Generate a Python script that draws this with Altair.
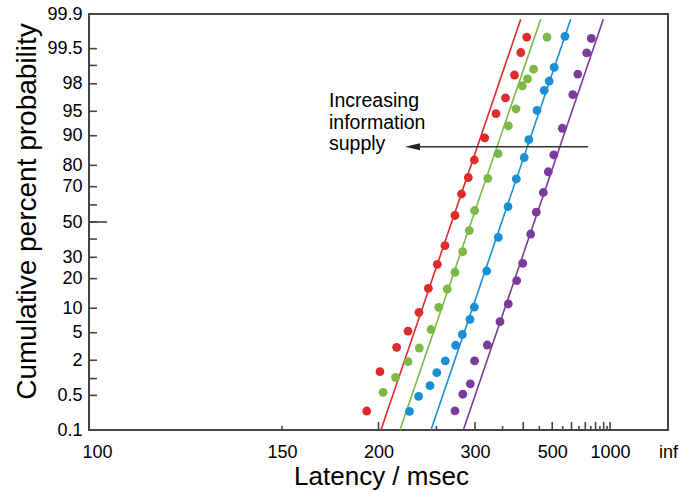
import statistics
import altair as alt
import pandas as pd

ND = statistics.NormalDist()

# ---------------- data ----------------
series_names = ["S1", "S2", "S3", "S4"]
series_colors = ["#e02b2b", "#7cb846", "#1b8fd6", "#7b3b9b"]

red_lat = [409.8, 393.3, 377.2, 356.3, 336.6, 315.9, 298.9, 289.9, 280.4, 271.8,
           259.6, 251.0, 241.6, 232.5, 222.7, 213.4, 201.0, 192.2]
red_pct = [99.70, 99.41, 98.55, 96.75, 94.62, 89.45, 82.15, 74.57, 66.13, 53.85,
           36.24, 26.48, 16.23, 8.98, 5.26, 3.13, 1.31, 0.249]

green_lat = [478.5, 430.8, 412.1, 397.4, 380.9, 362.6, 340.6, 321.3, 299.4, 291.4,
             282.0, 271.8, 262.3, 252.5, 244.3, 232.8, 222.7, 212.5, 203.2]
green_pct = [99.70, 98.84, 98.33, 97.85, 95.37, 92.35, 84.49, 74.19, 56.78, 44.86,
             32.95, 22.75, 15.97, 10.25, 5.51, 3.06, 1.90, 1.05, 0.57]

blue_lat = [562.1, 508.8, 487.4, 467.7, 442.0, 416.0, 402.6, 381.7, 361.9, 341.2,
            319.4, 298.9, 292.4, 281.5, 272.7, 260.0, 250.4, 243.3, 232.2, 224.0]
blue_pct = [99.71, 98.92, 98.19, 97.48, 95.12, 88.93, 83.10, 73.86, 58.99, 41.01,
            23.33, 10.33, 7.41, 4.73, 3.35, 1.95, 1.26, 0.75, 0.48, 0.245]

purple_lat = [754.9, 712.2, 641.9, 608.2, 547.8, 507.0, 483.7, 464.3, 439.6, 421.7,
              398.5, 382.7, 362.6, 344.6, 320.4, 299.4, 292.9, 282.2, 271.8]
purple_pct = [99.68, 99.40, 98.60, 97.07, 91.81, 84.03, 77.22, 66.94, 55.79, 42.92,
              26.97, 19.16, 11.16, 6.93, 3.38, 1.95, 0.81, 0.525, 0.25]

# fitted straight lines (reciprobit): latency at the two ends
line_lat_lo = [201.7, 216.0, 244.3, 282.9]
line_lat_hi = [393.1, 454.8, 595.1, 894.9]
line_pct_lo = 0.1
line_pct_hi = 99.87

# axis ticks
y_tick_pcts = [0.1, 0.5, 1, 2, 5, 10, 20, 30, 40, 50, 60, 70, 80, 90, 95, 98, 99, 99.5, 99.9]
y_label_pcts = [0.1, 0.5, 2, 5, 10, 20, 30, 50, 70, 80, 90, 95, 98, 99.5, 99.9]
y_long_tick_pcts = [50]
x_label_lats = [100, 150, 200, 300, 500, 1000, "inf"]
x_tick_long = [200, 300, 400, 500, 600, 700, 800, 900, 1000]
x_tick_short = [150, 250, 350, 450, 550, 650, 750, 850, 950]

# annotation
ann_lines = ["Increasing", "information", "supply"]
ann_lat = 170.8
ann_pct = [95.69, 91.76, 85.6]
arrow_lat_start = 723.0
arrow_lat_tip = 220.2
arrow_pct = 86.84

# ---------------- helpers ----------------
def z(p):
    return ND.inv_cdf(p / 100.0)

def rx(t):
    return 0.0 if t == "inf" else -1.0 / t

rows = []
for name, lats, pcts in zip(series_names,
                            [red_lat, green_lat, blue_lat, purple_lat],
                            [red_pct, green_pct, blue_pct, purple_pct]):
    for t, p in zip(lats, pcts):
        rows.append({"series": name, "rx": rx(t), "z": z(p)})
pts = pd.DataFrame(rows)

lrows = []
for name, lo, hi in zip(series_names, line_lat_lo, line_lat_hi):
    lrows.append({"series": name, "rx": rx(lo), "z": z(line_pct_lo), "o": 0})
    lrows.append({"series": name, "rx": rx(hi), "z": z(line_pct_hi), "o": 1})
lines = pd.DataFrame(lrows)

ytick_df = pd.DataFrame({"z": [z(p) for p in y_tick_pcts]})
ylong_df = pd.DataFrame({"z": [z(p) for p in y_long_tick_pcts]})
xlong_df = pd.DataFrame({"rx": [rx(t) for t in x_tick_long]})
xshort_df = pd.DataFrame({"rx": [rx(t) for t in x_tick_short]})
ann_df = pd.DataFrame({"txt": ann_lines, "rx": [rx(ann_lat)] * 3,
                       "z": [z(p) for p in ann_pct]})
arrow_df = pd.DataFrame({"rx": [rx(arrow_lat_start)], "rx2": [rx(arrow_lat_tip + 6)],
                         "z": [z(arrow_pct)]})
head_df = pd.DataFrame({"rx": [rx(arrow_lat_tip)], "z": [z(arrow_pct)]})

W, H = 579, 416
FONT = "Liberation Sans"
FRAME = "#444444"

xscale = alt.Scale(domain=[-0.01, 0.0], nice=False, zero=False)
yscale = alt.Scale(domain=[z(0.1), z(99.9)], nice=False, zero=False)
cscale = alt.Scale(domain=series_names, range=series_colors)

x_axis = alt.Axis(
    values=[rx(t) for t in x_label_lats],
    labelExpr="datum.value >= 0 ? 'inf' : format(-1/datum.value, '.0f')",
    ticks=False, tickSize=0, domain=False, grid=False,
    labelFontSize=18, labelFont=FONT, labelColor="#000", labelPadding=13,
    labelFlush=False, labelOverlap=False,
    labelOffset={"condition": {"test": "datum.value < -0.009", "value": 8}, "value": 0},
    title="Latency / msec", titleFontSize=26, titleFont=FONT, titleFontWeight="normal",
    titleColor="#000", titleX=292, titleY=54, titleBaseline="alphabetic", titleAlign="center",
)
y_axis = alt.Axis(
    values=[z(p) for p in y_label_pcts],
    labelExpr="toString(round(1000*cumulativeNormal(datum.value))/10)",
    ticks=False, tickSize=0, domain=False, grid=False,
    labelFontSize=18, labelFont=FONT, labelColor="#000", labelPadding=7,
    labelOverlap=False, labelFlush=False,
    title="Cumulative percent probability", titleFontSize=28, titleFont=FONT,
    titleFontWeight="normal", titleColor="#000", titleAngle=270,
    titleX=-53.5, titleY=197, titleBaseline="alphabetic", titleAlign="center",
)

X = alt.X("rx:Q", scale=xscale, axis=x_axis)
Y = alt.Y("z:Q", scale=yscale, axis=y_axis)

line_layer = alt.Chart(lines).mark_line(strokeWidth=1.6).encode(
    x=X, y=Y,
    color=alt.Color("series:N", scale=cscale, legend=None),
    detail="series:N", order="o:Q",
)

point_layer = alt.Chart(pts).mark_circle(size=78, opacity=1).encode(
    x=X, y=Y,
    color=alt.Color("series:N", scale=cscale, legend=None),
)

ytick_layer = alt.Chart(ytick_df).mark_rule(color=FRAME, strokeWidth=1.6).encode(
    y=Y, x=alt.value(0), x2=alt.value(8))
ylong_layer = alt.Chart(ylong_df).mark_rule(color=FRAME, strokeWidth=1.6).encode(
    y=Y, x=alt.value(0), x2=alt.value(18))
xlong_layer = alt.Chart(xlong_df).mark_rule(color=FRAME, strokeWidth=1.6).encode(
    x=X, y=alt.value(H), y2=alt.value(H - 8))
xshort_layer = alt.Chart(xshort_df).mark_rule(color=FRAME, strokeWidth=1.6).encode(
    x=X, y=alt.value(H), y2=alt.value(H - 4))

arrow_layer = alt.Chart(arrow_df).mark_rule(color="#333", strokeWidth=1.6).encode(
    x=X, x2="rx2:Q", y=Y)
head_layer = alt.Chart(head_df).mark_point(
    shape="M0,0 L2,-0.47 L2,0.47 Z", size=225, filled=True, color="#222", opacity=1,
).encode(x=X, y=Y)

text_layer = alt.Chart(ann_df).mark_text(
    align="left", baseline="alphabetic", fontSize=19.5, font=FONT, color="#000",
).encode(x=X, y=Y, text="txt:N")

chart = alt.layer(
    line_layer, point_layer, ytick_layer, ylong_layer, xlong_layer, xshort_layer,
    arrow_layer, head_layer, text_layer,
).properties(
    width=W, height=H,
    padding={"left": 89, "top": 14, "right": 13, "bottom": 62},
    autosize=alt.AutoSizeParams(type="none"),
    background="white",
).configure_view(
    stroke=FRAME, strokeWidth=2
).configure_axis(
    labelOverlap=False
)

chart.save("out.html", embed_options={"renderer": "svg", "actions": False})
